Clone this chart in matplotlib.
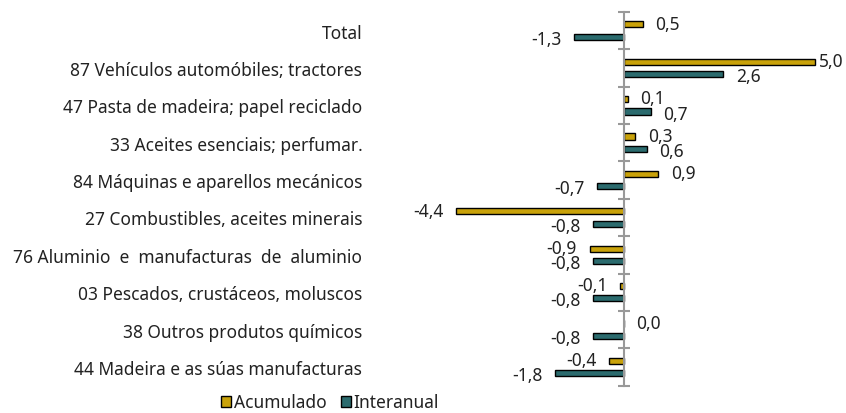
import numpy as np
import matplotlib
matplotlib.use('Agg')
from matplotlib import pyplot as plt

plt.rcParams['font.family'] = ['Noto Sans', 'DejaVu Sans']

# datos
categorias = ['Total',
              '87 Vehículos automóbiles; tractores',
              '47 Pasta de madeira; papel reciclado',
              '33 Aceites esenciais; perfumar.',
              '84 Máquinas e aparellos mecánicos',
              '27 Combustibles, aceites minerais',
              '76 Aluminio  e  manufacturas  de  aluminio',
              '03 Pescados, crustáceos, moluscos',
              '38 Outros produtos químicos',
              '44 Madeira e as súas manufacturas']
acumulado = [0.5, 5.0, 0.1, 0.3, 0.9, -4.4, -0.9, -0.1, 0.0, -0.4]
interanual = [-1.3, 2.6, 0.7, 0.6, -0.7, -0.8, -0.8, -0.8, -0.8, -1.8]

c_acum = '#C9A20A'
c_inter = '#2B6B6E'
txt = '#222222'

fig = plt.figure(figsize=(8.46, 4.14), dpi=100)
ax = fig.add_axes([0.443, 0.066, 0.557, 0.903])

y = np.arange(len(categorias))
h = 0.165
ax.barh(y - h, acumulado, height=h, color=c_acum, edgecolor='black', linewidth=1, label='Acumulado')
ax.barh(y + h, interanual, height=h, color=c_inter, edgecolor='black', linewidth=1, label='Interanual')

def fmt(v):
    return f'{v:.1f}'.replace('.', ',')

xmax = 5.81
for serie, yy_all, dy in [(acumulado, y - h, 0.5), (interanual, y + h, -1.5)]:
    for yy, v in zip(yy_all, serie):
        off = 9 if v >= 0 else -9
        if v > 0.8 * xmax:
            off = 3  # pegado ao bordo dereito
        ax.annotate(fmt(v), (v, yy), xytext=(off, dy), textcoords='offset points',
                    ha='left' if v >= 0 else 'right', va='center', fontsize=12.5, color=txt)

ax.set_xlim(-6.52, xmax)
ax.set_ylim(len(categorias) - 0.5, -0.5)

# eixo vertical no cero
for s in ['top', 'bottom', 'left']:
    ax.spines[s].set_visible(False)
ax.spines['right'].set_position(('data', 0))
ax.spines['right'].set_color('#999999')
ax.spines['right'].set_linewidth(1.5)
ax.set_xticks([])

ax.set_yticks(y)
ax.set_yticklabels(categorias, fontsize=12.5, color=txt)
ax.set_yticks(np.arange(-0.5, len(categorias), 1), minor=True)
ax.tick_params(axis='y', which='major', left=True, right=False, length=0, pad=9)
ax.tick_params(axis='y', which='minor', left=False, right=True, direction='inout',
               length=9, width=1.5, color='#999999')

fig.legend(loc='center', bbox_to_anchor=(0.39, 0.026), ncol=2, frameon=False,
           fontsize=12.5, handlelength=0.6, handleheight=0.6, handletextpad=0.15,
           columnspacing=0.8, borderpad=0, labelcolor=txt)

fig.savefig('out.png', dpi=100)
